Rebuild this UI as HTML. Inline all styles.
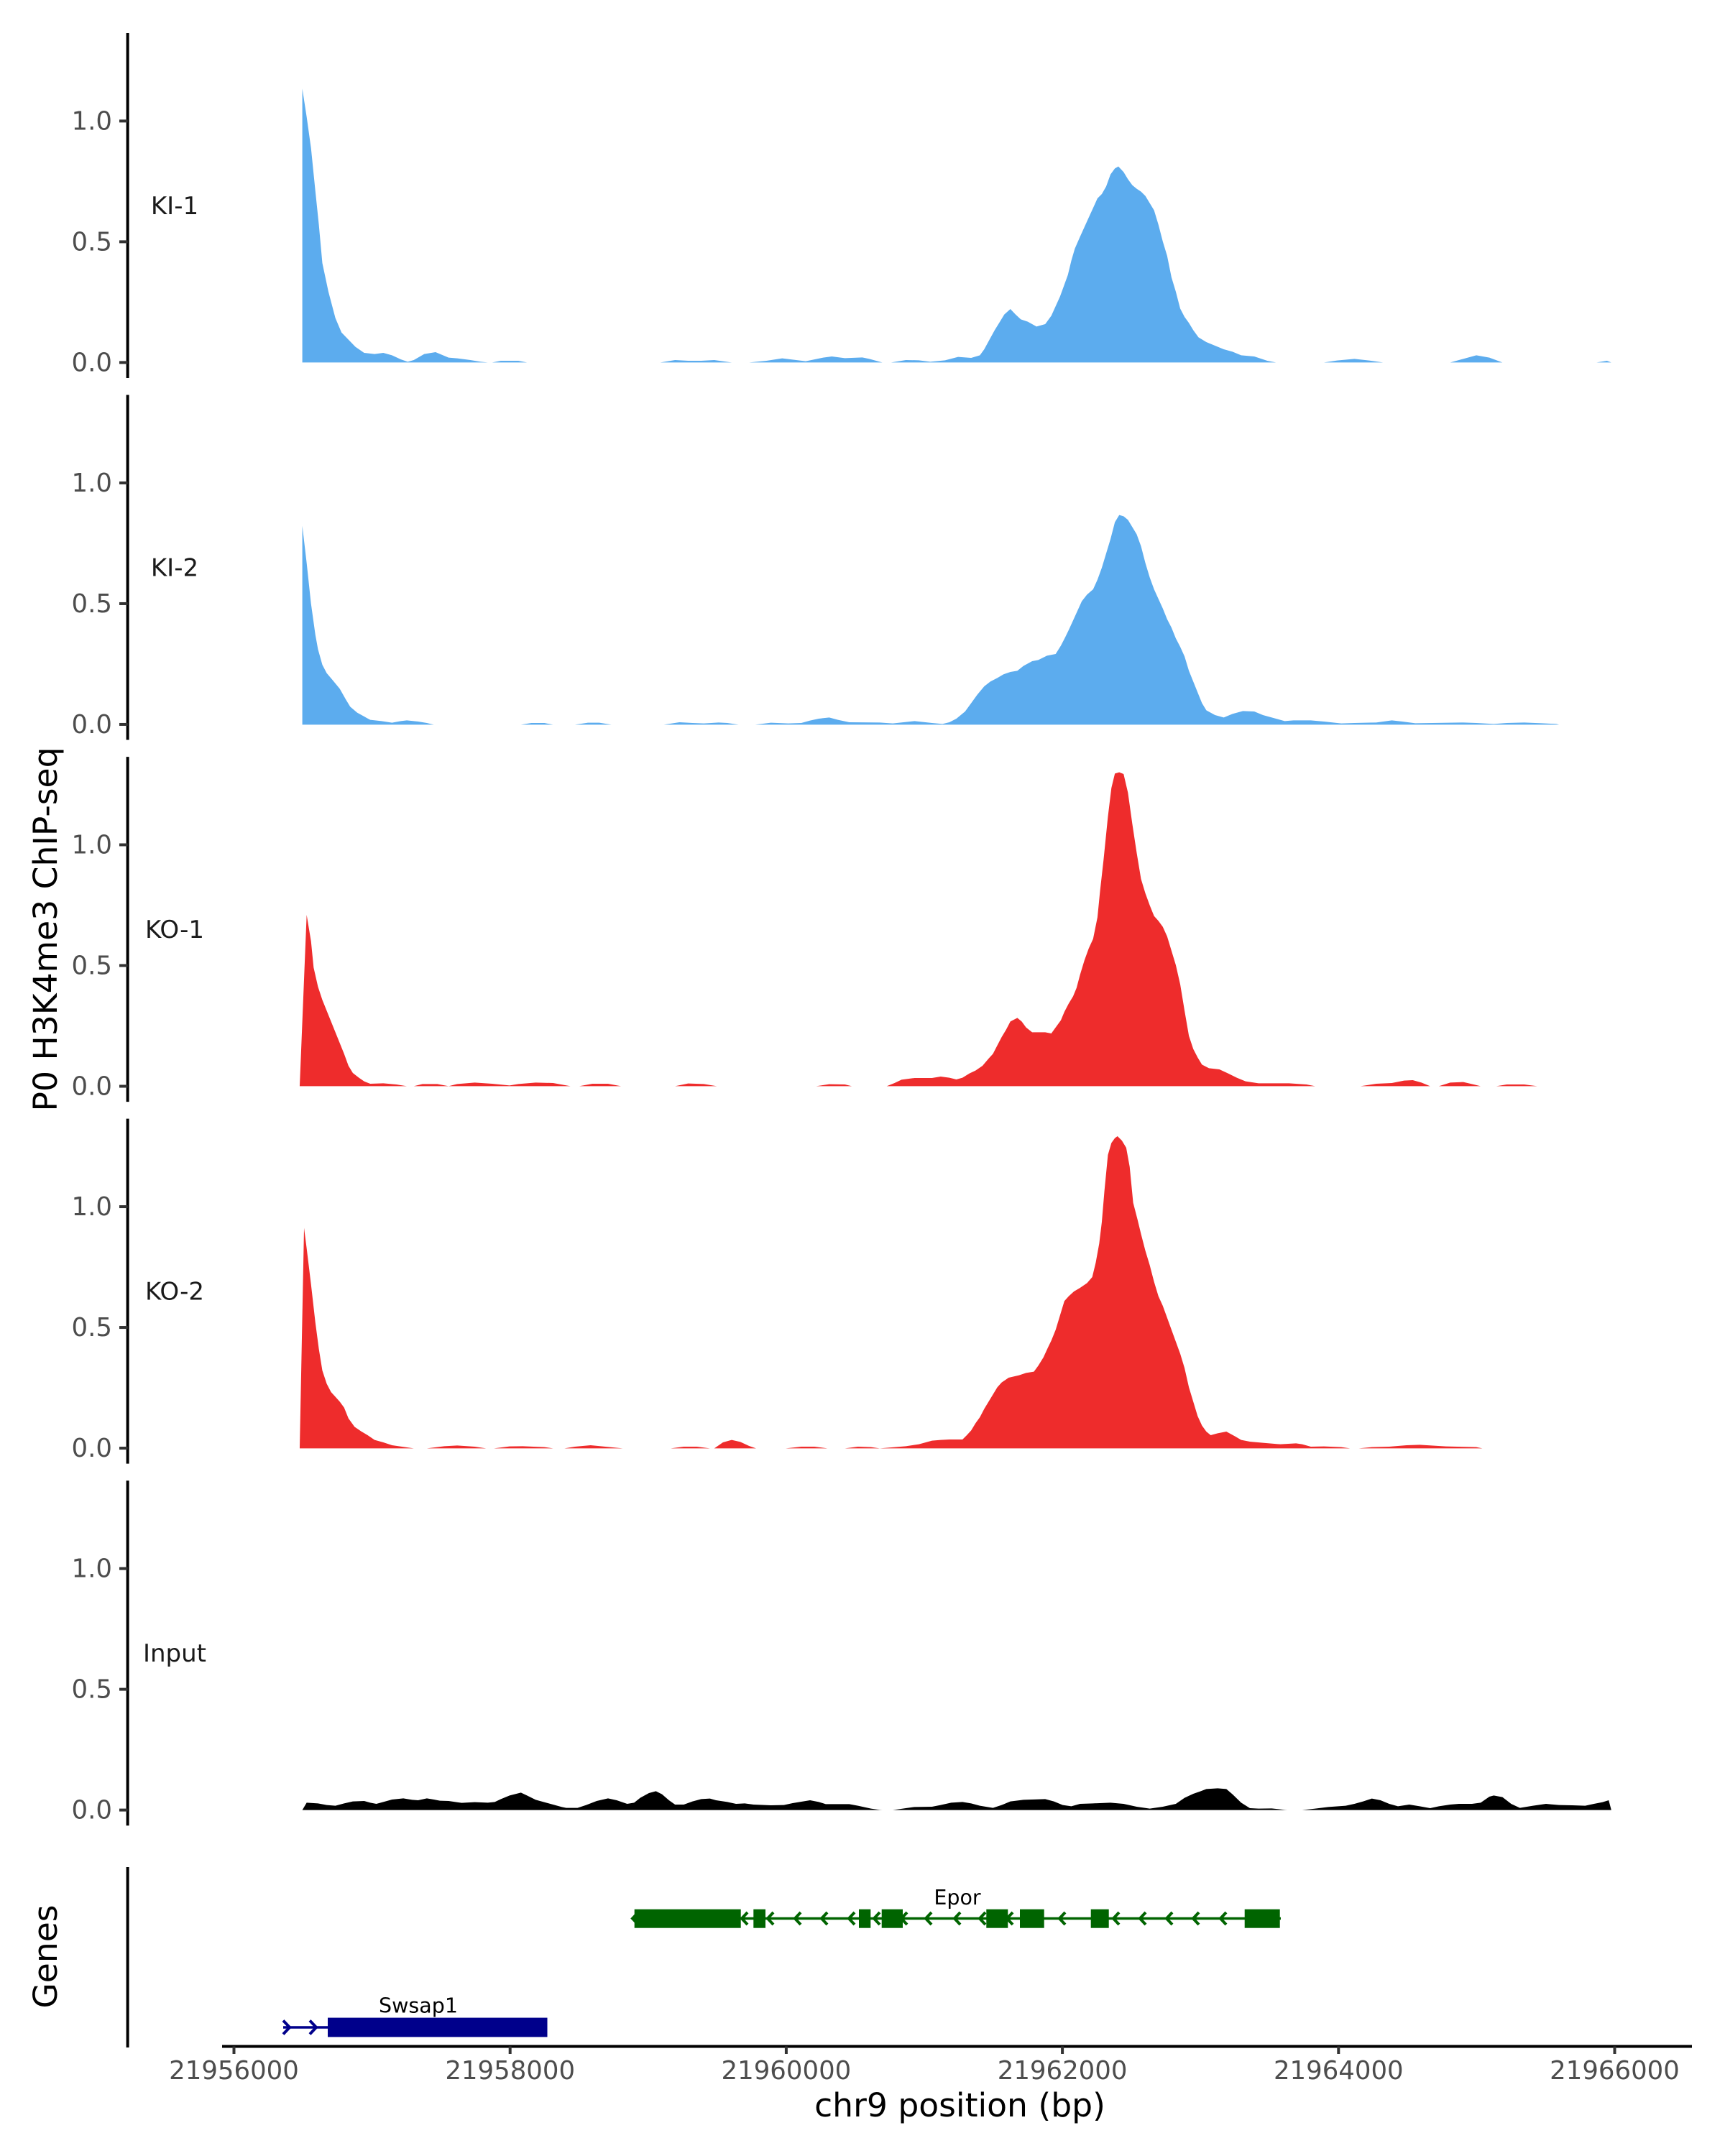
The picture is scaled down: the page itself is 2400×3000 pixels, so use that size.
<!DOCTYPE html>
<html>
<head>
<meta charset="utf-8">
<style>
html,body{margin:0;padding:0;background:#fff;}
svg{display:block;}
text{font-family:"DejaVu Sans","Liberation Sans",sans-serif;}
.tk{font-size:35.5px;fill:#4D4D4D;}
.lab{font-size:34px;fill:#1A1A1A;}
.ttl{font-size:45.6px;fill:#000;}
.gl{font-size:28.5px;fill:#000;}
</style>
</head>
<body>
<svg width="2400" height="3000" viewBox="0 0 2400 3000" xmlns="http://www.w3.org/2000/svg">
<rect width="2400" height="3000" fill="#fff"/>

<!-- KI-1 -->
<g transform="translate(400,46) scale(1.21173,0.333333)">
<path fill="#5CACEE" d="M17 1375 L17 232 L22 350 L27 480 L32 660 L36 800 L40 960 L47 1080 L55 1190 L62 1250 L70 1280 L78 1310 L88 1335 L100 1340 L110 1335 L120 1345 L130 1362 L138 1372 L145 1365 L157 1340 L170 1332 L185 1355 L195 1358 L210 1365 L222 1372 L230 1375 Z
M235 1375 L245 1368 L265 1368 L275 1375 Z
M428 1375 L445 1365 L460 1368 L475 1368 L490 1365 L510 1375 Z
M530 1375 L550 1368 L568 1358 L595 1370 L615 1355 L625 1350 L640 1357 L660 1354 L668 1360 L683 1375 Z
M693 1375 L710 1365 L725 1366 L738 1372 L755 1366 L770 1352 L785 1356 L795 1345 L800 1320 L806 1280 L812 1240 L818 1205 L823 1175 L830 1152 L836 1175 L842 1195 L850 1205 L860 1225 L870 1215 L877 1180 L882 1140 L887 1100 L892 1050 L896 1010 L900 950 L904 900 L910 850 L915 810 L920 770 L925 730 L930 690 L935 672 L940 640 L945 590 L950 565 L954 557 L960 580 L965 610 L970 635 L975 650 L980 662 L985 680 L990 710 L995 740 L1000 800 L1005 870 L1010 930 L1015 1020 L1020 1080 L1025 1150 L1030 1185 L1035 1210 L1040 1240 L1046 1270 L1055 1290 L1065 1305 L1075 1320 L1085 1330 L1095 1345 L1110 1350 L1125 1368 L1135 1375 Z
M1190 1375 L1205 1367 L1225 1360 L1240 1366 L1258 1375 Z
M1335 1375 L1350 1360 L1365 1345 L1380 1355 L1395 1375 Z
M1503 1375 L1515 1368 L1520 1375 Z"/>
</g>

<!-- KI-2 -->
<g transform="translate(400,550) scale(1.21173,0.333333)">
<path fill="#5CACEE" d="M17 1375 L17 545 L22 700 L27 870 L32 1000 L35 1060 L40 1125 L45 1160 L52 1190 L60 1225 L67 1270 L72 1300 L80 1325 L90 1345 L95 1355 L108 1360 L120 1367 L130 1360 L137 1357 L150 1362 L160 1368 L168 1375 Z
M268 1375 L280 1368 L295 1368 L305 1375 Z
M330 1375 L345 1367 L358 1367 L372 1375 Z
M432 1375 L450 1365 L465 1368 L478 1370 L495 1366 L505 1368 L518 1375 Z
M537 1375 L555 1367 L575 1370 L590 1368 L600 1358 L610 1350 L622 1345 L632 1355 L645 1365 L680 1366 L695 1370 L720 1360 L740 1368 L752 1372 L760 1365 L768 1350 L778 1320 L785 1285 L792 1250 L800 1215 L807 1195 L815 1180 L822 1165 L830 1155 L838 1150 L845 1130 L855 1110 L862 1105 L872 1087 L882 1080 L888 1045 L893 1010 L897 980 L902 940 L907 900 L912 860 L918 832 L925 810 L930 770 L935 720 L940 660 L945 600 L950 530 L955 500 L960 505 L965 520 L970 550 L975 580 L980 630 L985 700 L990 760 L995 810 L1000 850 L1005 890 L1010 935 L1015 970 L1020 1015 L1025 1050 L1030 1090 L1035 1150 L1040 1195 L1045 1240 L1050 1285 L1055 1315 L1065 1335 L1075 1345 L1085 1330 L1097 1318 L1110 1320 L1120 1335 L1135 1350 L1145 1360 L1155 1357 L1175 1357 L1190 1362 L1210 1370 L1225 1368 L1250 1366 L1268 1357 L1280 1362 L1295 1369 L1350 1366 L1365 1368 L1385 1372 L1400 1368 L1420 1366 L1440 1369 L1457 1372 L1460 1375 Z"/>
</g>

<!-- KO-1 -->
<g transform="translate(400,1053) scale(1.21173,0.333333)">
<path fill="#EE2C2C" d="M14 1375 L22 660 L27 770 L30 880 L35 960 L40 1015 L45 1060 L50 1105 L55 1150 L60 1195 L65 1240 L70 1290 L75 1320 L82 1340 L88 1355 L95 1365 L110 1363 L125 1368 L137 1375 Z
M145 1375 L155 1366 L172 1366 L185 1375 L195 1366 L215 1360 L235 1365 L255 1372 L265 1366 L285 1360 L305 1362 L325 1375 Z
M335 1375 L350 1365 L368 1365 L383 1375 Z
M445 1375 L460 1364 L478 1366 L493 1375 Z
M607 1375 L622 1367 L640 1368 L648 1375 Z
M688 1375 L697 1362 L705 1348 L720 1341 L740 1341 L750 1335 L760 1340 L768 1347 L775 1340 L783 1322 L790 1310 L798 1290 L805 1260 L810 1240 L815 1205 L820 1170 L825 1140 L830 1105 L838 1090 L843 1105 L848 1130 L855 1150 L870 1150 L877 1155 L882 1130 L888 1100 L892 1065 L897 1030 L902 1000 L906 965 L910 910 L915 850 L920 800 L925 760 L930 670 L933 560 L937 430 L942 250 L946 130 L950 70 L955 65 L960 72 L965 150 L970 280 L975 400 L980 510 L985 570 L990 620 L995 665 L1000 685 L1005 710 L1010 750 L1015 810 L1020 870 L1025 950 L1030 1060 L1035 1165 L1040 1220 L1045 1255 L1050 1285 L1058 1300 L1070 1305 L1080 1322 L1090 1340 L1100 1355 L1115 1363 L1150 1363 L1170 1368 L1180 1375 Z
M1232 1375 L1250 1365 L1268 1362 L1282 1352 L1292 1350 L1302 1360 L1312 1375 Z
M1322 1375 L1335 1360 L1350 1358 L1362 1368 L1370 1375 Z
M1388 1375 L1400 1368 L1420 1368 L1435 1375 Z"/>
</g>

<!-- KO-2 -->
<g transform="translate(400,1557) scale(1.21173,0.333333)">
<path fill="#EE2C2C" d="M14 1375 L19 455 L22 540 L27 690 L32 850 L36 960 L40 1050 L45 1105 L50 1140 L55 1160 L60 1180 L65 1205 L70 1250 L77 1285 L85 1305 L92 1320 L100 1340 L110 1350 L120 1362 L135 1370 L145 1375 Z
M160 1375 L180 1366 L195 1363 L215 1368 L228 1375 Z
M237 1375 L255 1367 L270 1366 L295 1370 L305 1375 Z
M318 1375 L330 1368 L348 1362 L365 1368 L385 1375 Z
M440 1375 L455 1368 L470 1368 L485 1375 Z
M490 1375 L500 1350 L510 1340 L520 1348 L530 1365 L538 1375 Z
M572 1375 L590 1368 L605 1368 L620 1375 Z
M640 1375 L655 1368 L670 1370 L680 1375 L690 1372 L710 1366 L725 1358 L740 1343 L750 1340 L760 1338 L775 1338 L780 1320 L785 1300 L790 1270 L795 1245 L800 1210 L805 1180 L810 1150 L815 1120 L820 1100 L828 1080 L840 1070 L848 1060 L857 1055 L862 1030 L868 995 L873 955 L877 925 L882 880 L887 820 L892 760 L897 740 L903 720 L910 705 L918 685 L924 660 L928 600 L932 520 L935 430 L938 300 L942 150 L946 100 L950 80 L953 72 L958 90 L963 120 L967 200 L971 350 L976 420 L980 480 L985 550 L990 610 L995 680 L1000 740 L1005 780 L1010 830 L1015 880 L1020 930 L1025 980 L1030 1040 L1035 1120 L1040 1180 L1045 1240 L1050 1280 L1055 1305 L1060 1320 L1068 1312 L1078 1305 L1088 1325 L1095 1340 L1105 1347 L1120 1352 L1140 1358 L1158 1354 L1165 1358 L1175 1368 L1190 1367 L1210 1370 L1220 1375 Z
M1230 1375 L1245 1370 L1265 1368 L1285 1362 L1300 1360 L1330 1367 L1365 1370 L1372 1375 Z"/>
</g>

<!-- Input -->
<g transform="translate(400,2450) scale(1.21173,0.333333)">
<path fill="#000" d="M17 206 L22 175 L35 178 L45 185 L55 188 L65 178 L75 170 L88 168 L95 175 L102 180 L110 172 L120 162 L133 157 L143 163 L150 165 L160 157 L168 162 L175 167 L185 168 L200 176 L215 173 L230 175 L238 172 L245 160 L255 145 L268 133 L275 145 L285 163 L300 178 L315 193 L320 197 L333 197 L343 185 L355 168 L368 157 L378 165 L390 180 L398 175 L405 155 L415 135 L423 127 L430 140 L438 165 L445 183 L455 183 L465 170 L475 160 L485 158 L492 165 L505 172 L515 180 L525 178 L535 183 L555 186 L570 185 L580 177 L600 165 L610 172 L618 181 L645 181 L655 188 L670 200 L680 205 L683 206 Z
M695 206 L710 198 L720 193 L740 192 L750 185 L762 175 L775 172 L785 178 L795 188 L810 197 L820 185 L830 170 L845 163 L870 160 L880 170 L890 185 L900 190 L910 180 L925 178 L945 175 L960 180 L975 192 L990 200 L1005 192 L1020 180 L1030 155 L1040 138 L1048 128 L1055 118 L1068 115 L1078 118 L1085 140 L1095 175 L1105 198 L1115 200 L1130 199 L1145 205 L1148 206 Z
M1165 206 L1180 200 L1195 193 L1215 188 L1225 180 L1235 170 L1245 158 L1255 165 L1265 180 L1275 190 L1288 183 L1300 190 L1312 198 L1322 190 L1335 183 L1345 180 L1360 180 L1370 175 L1380 150 L1385 145 L1395 152 L1405 180 L1415 197 L1430 188 L1445 180 L1460 185 L1475 186 L1490 188 L1500 180 L1510 173 L1517 165 L1520 206 Z"/>
</g>

<!-- Y axis lines -->
<g stroke="#000" stroke-width="4">
<line x1="177.6" y1="46" x2="177.6" y2="526"/>
<line x1="177.6" y1="549.55" x2="177.6" y2="1029.55"/>
<line x1="177.6" y1="1053.1" x2="177.6" y2="1533.1"/>
<line x1="177.6" y1="1556.65" x2="177.6" y2="2036.65"/>
<line x1="177.6" y1="2060.2" x2="177.6" y2="2540.2"/>
<line x1="177.6" y1="2598" x2="177.6" y2="2849"/>
</g>

<!-- Y ticks -->
<g stroke="#333" stroke-width="4">
<line x1="166" y1="504.4" x2="177.6" y2="504.4"/><line x1="166" y1="336.4" x2="177.6" y2="336.4"/><line x1="166" y1="168.4" x2="177.6" y2="168.4"/>
<line x1="166" y1="1007.95" x2="177.6" y2="1007.95"/><line x1="166" y1="839.95" x2="177.6" y2="839.95"/><line x1="166" y1="671.95" x2="177.6" y2="671.95"/>
<line x1="166" y1="1511.5" x2="177.6" y2="1511.5"/><line x1="166" y1="1343.5" x2="177.6" y2="1343.5"/><line x1="166" y1="1175.5" x2="177.6" y2="1175.5"/>
<line x1="166" y1="2015.05" x2="177.6" y2="2015.05"/><line x1="166" y1="1847.05" x2="177.6" y2="1847.05"/><line x1="166" y1="1679.05" x2="177.6" y2="1679.05"/>
<line x1="166" y1="2518.6" x2="177.6" y2="2518.6"/><line x1="166" y1="2350.6" x2="177.6" y2="2350.6"/><line x1="166" y1="2182.6" x2="177.6" y2="2182.6"/>
</g>
<g class="tk" text-anchor="end">
<text x="156" y="516.4" class="tk">0.0</text><text x="156" y="348.4" class="tk">0.5</text><text x="156" y="180.4" class="tk">1.0</text>
<text x="156" y="1019.95" class="tk">0.0</text><text x="156" y="851.95" class="tk">0.5</text><text x="156" y="683.95" class="tk">1.0</text>
<text x="156" y="1523.5" class="tk">0.0</text><text x="156" y="1355.5" class="tk">0.5</text><text x="156" y="1187.5" class="tk">1.0</text>
<text x="156" y="2027.05" class="tk">0.0</text><text x="156" y="1859.05" class="tk">0.5</text><text x="156" y="1691.05" class="tk">1.0</text>
<text x="156" y="2530.6" class="tk">0.0</text><text x="156" y="2362.6" class="tk">0.5</text><text x="156" y="2194.6" class="tk">1.0</text>
</g>

<!-- Panel labels -->
<g text-anchor="middle">
<text x="243" y="298" class="lab">KI-1</text>
<text x="243" y="801.5" class="lab">KI-2</text>
<text x="243" y="1305" class="lab">KO-1</text>
<text x="243" y="1808.6" class="lab">KO-2</text>
<text x="243" y="2312.2" class="lab">Input</text>
</g>

<!-- X axis -->
<line x1="309" y1="2847.5" x2="2354" y2="2847.5" stroke="#000" stroke-width="4"/>
<g stroke="#333" stroke-width="4">
<line x1="325.5" y1="2847.5" x2="325.5" y2="2858"/>
<line x1="709.7" y1="2847.5" x2="709.7" y2="2858"/>
<line x1="1093.9" y1="2847.5" x2="1093.9" y2="2858"/>
<line x1="1478.1" y1="2847.5" x2="1478.1" y2="2858"/>
<line x1="1862.3" y1="2847.5" x2="1862.3" y2="2858"/>
<line x1="2246.5" y1="2847.5" x2="2246.5" y2="2858"/>
</g>
<g text-anchor="middle">
<text x="325.5" y="2893" class="tk">21956000</text>
<text x="709.7" y="2893" class="tk">21958000</text>
<text x="1093.9" y="2893" class="tk">21960000</text>
<text x="1478.1" y="2893" class="tk">21962000</text>
<text x="1862.3" y="2893" class="tk">21964000</text>
<text x="2246.5" y="2893" class="tk">21966000</text>
</g>

<!-- Axis titles -->
<text x="1335.5" y="2945" text-anchor="middle" class="ttl">chr9 position (bp)</text>
<text transform="translate(79,1293) rotate(-90)" x="0" y="0" text-anchor="middle" class="ttl">P0 H3K4me3 ChIP-seq</text>
<text transform="translate(79,2722.5) rotate(-90)" x="0" y="0" text-anchor="middle" class="ttl">Genes</text>

<!-- Epor gene -->
<g fill="#006400">
<line x1="880" y1="2669.5" x2="1782" y2="2669.5" stroke="#006400" stroke-width="3.5"/>
<rect x="882.7" y="2656.7" width="148" height="26"/>
<rect x="1048.3" y="2656.7" width="16.7" height="26"/>
<rect x="1195" y="2656.7" width="16.3" height="26"/>
<rect x="1226.7" y="2656.7" width="29.3" height="26"/>
<rect x="1372.3" y="2656.7" width="30" height="26"/>
<rect x="1419" y="2656.7" width="33.7" height="26"/>
<rect x="1517.7" y="2656.7" width="25" height="26"/>
<rect x="1731.7" y="2656.7" width="49" height="26"/>
</g>
<g fill="none" stroke="#006400" stroke-width="4">
<path d="M888 2661 L880 2669.5 L888 2678"/>
<path d="M1040 2661 L1032 2669.5 L1040 2678"/>
<path d="M1076 2661 L1068 2669.5 L1076 2678"/>
<path d="M1114 2661 L1106 2669.5 L1114 2678"/>
<path d="M1151 2661 L1143 2669.5 L1151 2678"/>
<path d="M1189 2661 L1181 2669.5 L1189 2678"/>
<path d="M1224 2661 L1216 2669.5 L1224 2678"/>
<path d="M1262 2661 L1254 2669.5 L1262 2678"/>
<path d="M1296 2661 L1288 2669.5 L1296 2678"/>
<path d="M1336 2661 L1328 2669.5 L1336 2678"/>
<path d="M1371 2661 L1363 2669.5 L1371 2678"/>
<path d="M1409 2661 L1401 2669.5 L1409 2678"/>
<path d="M1482 2661 L1474 2669.5 L1482 2678"/>
<path d="M1557 2661 L1549 2669.5 L1557 2678"/>
<path d="M1594 2661 L1586 2669.5 L1594 2678"/>
<path d="M1631 2661 L1623 2669.5 L1631 2678"/>
<path d="M1668 2661 L1660 2669.5 L1668 2678"/>
<path d="M1706 2661 L1698 2669.5 L1706 2678"/>
</g>
<text x="1332" y="2650" text-anchor="middle" class="gl">Epor</text>

<!-- Swsap1 gene -->
<line x1="394" y1="2821" x2="458" y2="2821" stroke="#00008B" stroke-width="3.5"/>
<rect x="456" y="2807.6" width="305.5" height="26.8" fill="#00008B"/>
<g fill="none" stroke="#00008B" stroke-width="4">
<path d="M394 2811.5 L403 2821 L394 2830.5"/>
<path d="M431 2811.5 L440 2821 L431 2830.5"/>
</g>
<text x="582" y="2800.5" text-anchor="middle" class="gl">Swsap1</text>

</svg>
</body>
</html>
